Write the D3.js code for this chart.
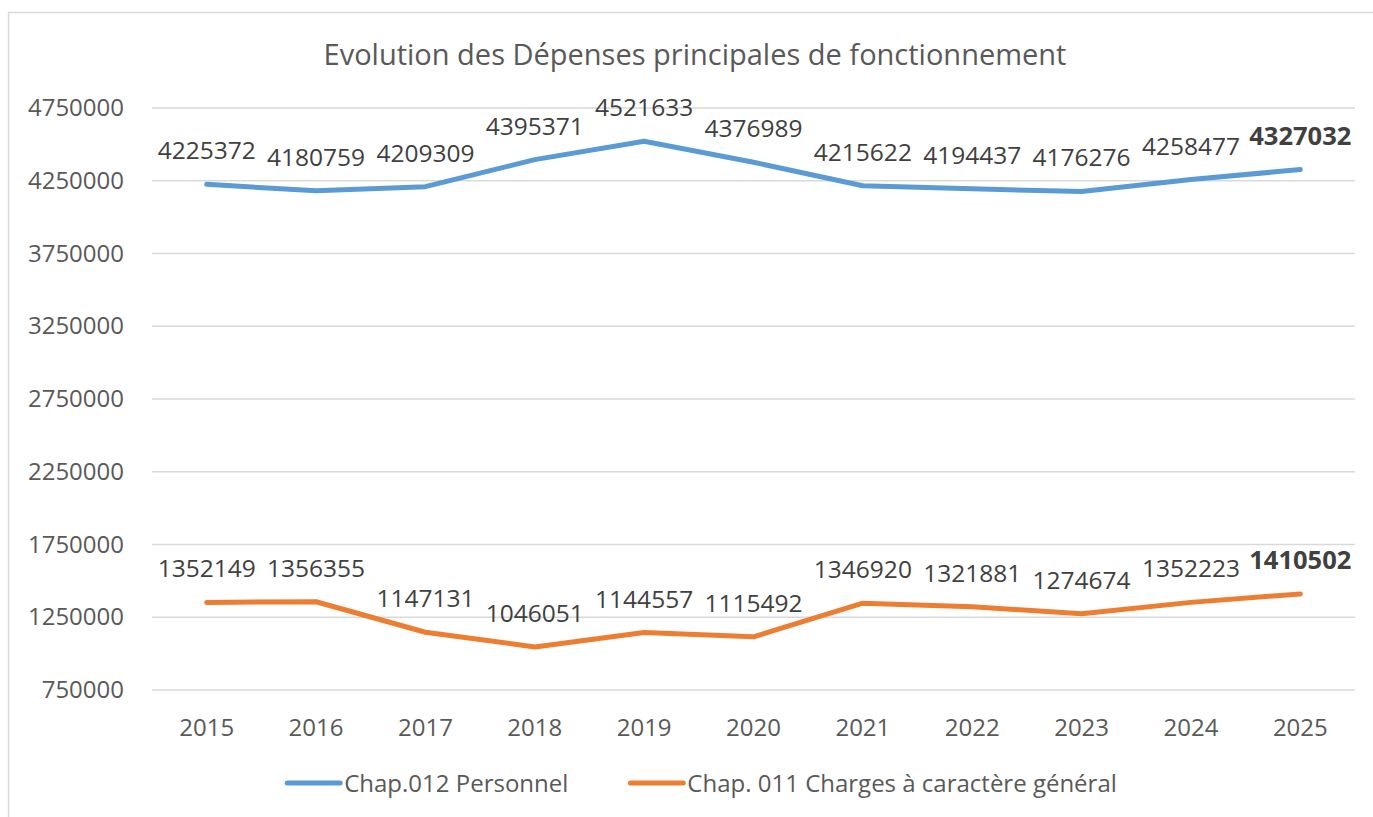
<!DOCTYPE html>
<html>
<head>
<meta charset="utf-8">
<script src="https://cdn.jsdelivr.net/npm/d3@7"></script>
<style>
  html, body { margin: 0; padding: 0; background: #fff; }
  svg { display: block; font-family: "Open Sans", sans-serif; }
</style>
</head>
<body>
<svg id="chart" width="1373" height="817"></svg>
<script>
const title = "Evolution des Dépenses principales de fonctionnement";
const years = ["2015","2016","2017","2018","2019","2020","2021","2022","2023","2024","2025"];
const personnel = [4225372, 4180759, 4209309, 4395371, 4521633, 4376989, 4215622, 4194437, 4176276, 4258477, 4327032];
const charges = [1352149, 1356355, 1147131, 1046051, 1144557, 1115492, 1346920, 1321881, 1274674, 1352223, 1410502];
const yTicks = [750000, 1250000, 1750000, 2250000, 2750000, 3250000, 3750000, 4250000, 4750000];
const seriesNames = ["Chap.012 Personnel", "Chap. 011 Charges à caractère général"];
const seriesColors = ["#5B9BD5", "#ED7D31"];

const svg = d3.select("#chart");

// outer chart border (extends beyond viewport on right/bottom)
svg.append("rect").attr("x", 8.5).attr("y", 12.5).attr("width", 1500).attr("height", 1000)
  .attr("fill", "none").attr("stroke", "#d9d9d9").attr("stroke-width", 1.5);

const x = d3.scaleBand().domain(years).range([152, 1355]);
const y = d3.scaleLinear().domain([750000, 4750000]).range([690, 108]);

// title
svg.append("text").attr("x", 695).attr("y", 65).attr("text-anchor", "middle")
  .attr("font-size", 29).attr("fill", "#595959").text(title);

// gridlines
svg.append("g").selectAll("line").data(yTicks).join("line")
  .attr("x1", 152).attr("x2", 1355)
  .attr("y1", d => y(d)).attr("y2", d => y(d))
  .attr("stroke", "#d9d9d9").attr("stroke-width", 1.5);

// y axis
const yAxis = svg.append("g").attr("transform", "translate(124,0)")
  .call(d3.axisLeft(y).tickValues(yTicks).tickSize(0).tickPadding(0).tickFormat(d3.format("d")));
yAxis.select(".domain").remove();
yAxis.selectAll("text").attr("font-size", 24).attr("fill", "#595959").attr("font-family", "Open Sans");

// x axis
const xAxis = svg.append("g").attr("transform", "translate(0,719)")
  .call(d3.axisBottom(x).tickSize(0).tickPadding(0));
xAxis.select(".domain").remove();
xAxis.selectAll("text").attr("font-size", 24).attr("fill", "#595959").attr("font-family", "Open Sans");

const line = d3.line().x((d, i) => x(years[i]) + x.bandwidth() / 2).y(d => y(d));

[personnel, charges].forEach((vals, si) => {
  svg.append("path").datum(vals).attr("d", line)
    .attr("fill", "none").attr("stroke", seriesColors[si]).attr("stroke-width", 5)
    .attr("stroke-linecap", "round").attr("stroke-linejoin", "round");
  svg.append("g").selectAll("text").data(vals).join("text")
    .attr("x", (d, i) => x(years[i]) + x.bandwidth() / 2)
    .attr("y", d => y(d) - 25)
    .attr("text-anchor", "middle")
    .attr("font-size", (d, i) => i === vals.length - 1 ? 25.5 : 24.5)
    .attr("font-weight", (d, i) => i === vals.length - 1 ? "bold" : "normal")
    .attr("fill", "#404040")
    .text(d => d);
});

// legend
const legend = svg.append("g");
let lx = 0;
seriesNames.forEach((name, i) => {
  const g = legend.append("g").attr("transform", `translate(${lx},0)`);
  g.append("line").attr("x1", 2).attr("x2", 55).attr("y1", 0).attr("y2", 0)
    .attr("stroke", seriesColors[i]).attr("stroke-width", 5).attr("stroke-linecap", "round");
  const t = g.append("text").attr("x", 59).attr("y", 8.5).attr("font-size", 24)
    .attr("fill", "#595959").text(name);
  lx += 59 + t.node().getComputedTextLength() + 60;
});
const totalW = lx - 60;
legend.attr("transform", `translate(${701 - totalW / 2},783)`);
</script>
</body>
</html>
